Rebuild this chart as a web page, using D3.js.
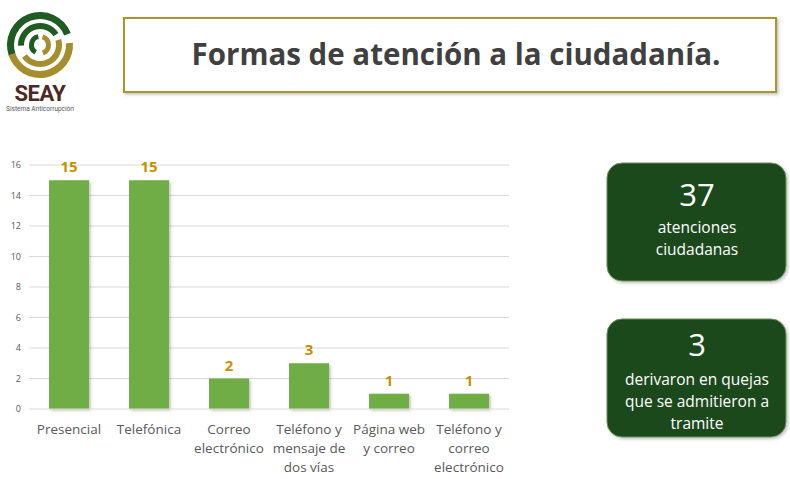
<!DOCTYPE html>
<html>
<head>
<meta charset="utf-8">
<script src="https://cdn.jsdelivr.net/npm/d3@7"></script>
<style>
  body { margin: 0; background: #fff; }
  svg { display: block; font-family: "Open Sans", "Lato", sans-serif; }
</style>
</head>
<body>
<svg id="chart" width="790" height="479"></svg>
<script>
// data
var categories = [
  ["Presencial"],
  ["Telefónica"],
  ["Correo", "electrónico"],
  ["Teléfono y", "mensaje de", "dos vías"],
  ["Página web", "y correo"],
  ["Teléfono y", "correo", "electrónico"]
];
var values = [15, 15, 2, 3, 1, 1];
var yTicks = [0, 2, 4, 6, 8, 10, 12, 14, 16];
var title = "Formas de atención a la ciudadanía.";
var cardNumbers = ["37", "3"];
var cardTexts = [
  ["atenciones", "ciudadanas"],
  ["derivaron en quejas", "que se admitieron a", "tramite"]
];

var svg = d3.select("#chart");

var defs = svg.append("defs");
var sh = defs.append("filter").attr("id", "shadow").attr("x", "-20%").attr("y", "-20%").attr("width", "140%").attr("height", "140%");
sh.append("feDropShadow").attr("dx", 1.5).attr("dy", 1.5).attr("stdDeviation", 1.5).attr("flood-color", "#000").attr("flood-opacity", 0.25);

// logo (simplified)
var logo = svg.append("g").attr("transform", "translate(40,45)");
var arc = d3.arc();
logo.append("path").attr("fill", "#1f5b22")
  .attr("d", arc({innerRadius: 26, outerRadius: 33, startAngle: -1.9, endAngle: 1.2}));
logo.append("path").attr("fill", "#1f5b22")
  .attr("d", arc({innerRadius: 16, outerRadius: 22, startAngle: -1.6, endAngle: 1.0}));
logo.append("path").attr("fill", "#1f5b22")
  .attr("d", arc({innerRadius: 6, outerRadius: 11, startAngle: -2.6, endAngle: -0.2}));
logo.append("path").attr("fill", "#a48e2e")
  .attr("d", arc({innerRadius: 26, outerRadius: 33, startAngle: 1.5, endAngle: 4.4}));
logo.append("path").attr("fill", "#a48e2e")
  .attr("d", arc({innerRadius: 16, outerRadius: 22, startAngle: 1.3, endAngle: 4.1}));
logo.append("path").attr("fill", "#a48e2e")
  .attr("d", arc({innerRadius: 6, outerRadius: 11, startAngle: 0.3, endAngle: 2.8}));
svg.append("text").attr("x", 40).attr("y", 101).attr("text-anchor", "middle")
  .attr("font-size", 22).attr("font-weight", "bold").attr("fill", "#4a2a22")
  .attr("font-family", "Roboto, sans-serif").attr("letter-spacing", -0.5).text("SEAY");
svg.append("text").attr("x", 40).attr("y", 111).attr("text-anchor", "middle")
  .attr("font-size", 6.5).attr("fill", "#555").attr("font-family", "Roboto, sans-serif")
  .text("Sistema Anticorrupción");

// title box
svg.append("rect").attr("x", 124).attr("y", 18).attr("width", 652).attr("height", 74)
  .attr("fill", "#fff").attr("stroke", "#a8952f").attr("stroke-width", 2)
  .attr("filter", "url(#shadow)");
svg.append("text").attr("x", 456).attr("y", 65).attr("text-anchor", "middle")
  .attr("font-size", 29.5).attr("font-weight", "bold").attr("fill", "#404040")
  .text(title);

// chart
var x = d3.scaleBand().domain(d3.range(categories.length)).range([29, 509]).paddingInner(0.5).paddingOuter(0.25);
var y = d3.scaleLinear().domain([0, 16]).range([409, 165]);

var g = svg.append("g");

g.append("g").selectAll("line").data(yTicks.slice(1)).join("line")
  .attr("x1", 29).attr("x2", 509)
  .attr("y1", d => y(d)).attr("y2", d => y(d))
  .attr("stroke", "#d9d9d9").attr("stroke-width", 1);

var yAxis = g.append("g").attr("transform", "translate(21,0)")
  .call(d3.axisLeft(y).tickValues(yTicks).tickSize(0).tickPadding(0));
yAxis.select(".domain").remove();
yAxis.selectAll("text").attr("fill", "#595959").attr("font-size", 9)
  .attr("font-family", "Open Sans, sans-serif");

g.selectAll("rect.bar").data(values).join("rect").attr("class", "bar")
  .attr("x", (d, i) => x(i)).attr("width", x.bandwidth())
  .attr("y", d => y(d)).attr("height", d => y(0) - y(d))
  .attr("fill", "#70ad47").attr("filter", "url(#shadow)");

g.append("line").attr("x1", 29).attr("x2", 509).attr("y1", y(0)).attr("y2", y(0))
  .attr("stroke", "#d9d9d9").attr("stroke-width", 1);

g.selectAll("text.val").data(values).join("text").attr("class", "val")
  .attr("x", (d, i) => x(i) + x.bandwidth() / 2).attr("y", d => y(d) - 8)
  .attr("text-anchor", "middle").attr("font-size", 15).attr("font-weight", "bold")
  .attr("fill", "#c09400").text(d => d);

var xl = g.selectAll("text.cat").data(categories).join("text").attr("class", "cat")
  .attr("x", (d, i) => x(i) + x.bandwidth() / 2).attr("y", 434)
  .attr("text-anchor", "middle").attr("font-size", 13.5).attr("fill", "#595959");
xl.selectAll("tspan").data(d => d).join("tspan")
  .attr("x", function() { return d3.select(this.parentNode).attr("x"); })
  .attr("dy", (d, i) => i === 0 ? 0 : 19).text(d => d);

// cards
var cards = svg.selectAll("g.card").data(cardNumbers).join("g").attr("class", "card")
  .attr("transform", (d, i) => "translate(607," + (i === 0 ? 163 : 319) + ")");
cards.append("rect").attr("width", 179).attr("height", 118).attr("rx", 15)
  .attr("fill", "#1b4a1d").attr("stroke", "#6f8f5a").attr("stroke-width", 1)
  .attr("filter", "url(#shadow)");
cards.append("text").attr("x", 90).attr("y", (d, i) => i === 0 ? 43 : 37)
  .attr("text-anchor", "middle").attr("font-size", 31).attr("fill", "#fff").text(d => d);
cards.append("text").attr("x", 90).attr("y", (d, i) => i === 0 ? 70 : 66)
  .attr("text-anchor", "middle").attr("font-size", 15.5).attr("fill", "#fff")
  .selectAll("tspan").data((d, i) => cardTexts[i]).join("tspan")
  .attr("x", 90).attr("dy", (d, i) => i === 0 ? 0 : 22).text(d => d);
</script>
</body>
</html>
